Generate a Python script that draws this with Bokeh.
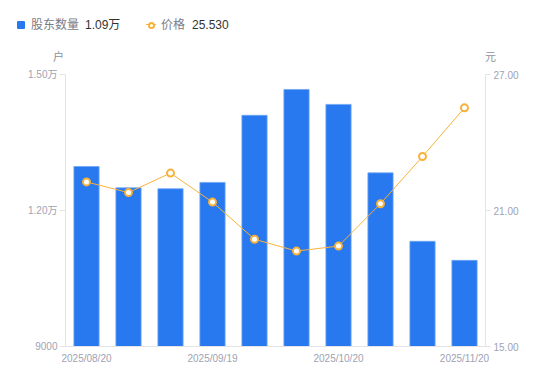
from bokeh.plotting import figure
from bokeh.layouts import column
from bokeh.models import (Range1d, LinearAxis, FixedTicker, ColumnDataSource, NumeralTickFormatter, Div)
from bokeh.embed import file_html
from bokeh.resources import INLINE

# ---- data ----
dates = ["2025/08/20", "2025/08/29", "2025/09/10", "2025/09/19", "2025/09/30",
         "2025/10/10", "2025/10/20", "2025/10/31", "2025/11/10", "2025/11/20"]
shareholders = [12970, 12500, 12480, 12620, 14100, 14670, 14340, 12830, 11320, 10900]
prices = [22.26, 21.79, 22.65, 21.37, 19.73, 19.21, 19.43, 21.30, 23.38, 25.53]
x_tick_idx = [0, 3, 6, 9]
left_ticks = [9000, 12000, 15000]
left_tick_labels = ["9000", "1.20万", "1.50万"]
right_ticks = [15.0, 21.0, 27.0]
series_names = ["股东数量", "价格"]
units = ["户", "元"]

FONT = "Liberation Sans, Noto Sans CJK SC"
TICK_COLOR = "#a0a2b2"
AXIS_COLOR = "#e3e3e8"
BAR_COLOR = "#2878f0"
LINE_COLOR = "#f8b23a"

W = 550
TOP_H = 66

# ---------------- header (legend + units) as HTML ----------------
def span(left, top, text, color, size=12):
    return (f'<span style="position:absolute;left:{left}px;top:{top}px;line-height:12px;'
            f'font-size:{size}px;color:{color};white-space:nowrap;">{text}</span>')

count_txt = f"{shareholders[-1] / 10000:.2f}万"
price_txt = f"{prices[-1]:.3f}"
header_html = (
    f'<div style="position:relative;width:{W}px;height:{TOP_H}px;font-family:{FONT};">'
    f'<span style="position:absolute;left:17px;top:21px;width:8px;height:8px;'
    f'background:{BAR_COLOR};border-radius:1px;"></span>'
    + span(31, 19, series_names[0], "#7a7c88")
    + span(85, 19, count_txt, "#333333")
    + f'<span style="position:absolute;left:146px;top:24px;width:10px;height:1px;background:{LINE_COLOR};"></span>'
    + f'<span style="position:absolute;left:148px;top:21.5px;width:7px;height:7px;box-sizing:border-box;'
      f'border:2px solid {LINE_COLOR};border-radius:50%;background:white;"></span>'
    + span(161, 19, series_names[1], "#7a7c88")
    + span(192, 19, price_txt, "#333333")
    + span(53, 51, units[0], "#8e909c", 11)
    + span(485, 51, units[1], "#8e909c", 11)
    + '</div>'
)
header = Div(text=header_html, width=W, height=TOP_H, margin=(0, 0, 0, 0))

# ---------------- main chart ----------------
idx = list(range(len(dates)))
src = ColumnDataSource(dict(x=idx, date=dates, count=shareholders, price=prices))

p = figure(frame_width=420, frame_height=272, output_backend="svg", toolbar_location=None,
           x_range=Range1d(-0.5, len(dates) - 0.5), y_range=Range1d(left_ticks[0], left_ticks[-1]),
           min_border_left=65, min_border_right=65, min_border_top=8, min_border_bottom=30)
p.extra_y_ranges = {"price": Range1d(right_ticks[0], right_ticks[-1])}
p.outline_line_color = None
p.xgrid.visible = False
p.ygrid.visible = False

bars = p.vbar(x="x", top="count", bottom=left_ticks[0], width=0.6, source=src,
              fill_color=BAR_COLOR, line_color="#6fa6f6", line_width=0.8)
line = p.line(x="x", y="price", source=src, y_range_name="price",
              line_color=LINE_COLOR, line_width=1)
pts = p.scatter(x="x", y="price", source=src, y_range_name="price", size=7,
                marker="circle", fill_color="white", line_color=LINE_COLOR, line_width=2)

# x axis
xa = p.xaxis[0]
xa.ticker = FixedTicker(ticks=x_tick_idx)
xa.major_label_overrides = {i: dates[i] for i in x_tick_idx}
xa.major_tick_out = 0
xa.major_tick_in = 0
xa.minor_tick_out = 0
xa.minor_tick_in = 0
xa.axis_line_color = AXIS_COLOR
xa.major_label_text_color = TICK_COLOR
xa.major_label_text_font = FONT
xa.major_label_text_font_size = "10px"
xa.major_label_standoff = 6

# left axis
ya = p.yaxis[0]
ya.ticker = FixedTicker(ticks=left_ticks)
ya.major_label_overrides = dict(zip(left_ticks, left_tick_labels))
ya.major_tick_out = 6
ya.major_tick_in = 0
ya.minor_tick_out = 0
ya.minor_tick_in = 0
ya.major_tick_line_color = AXIS_COLOR
ya.axis_line_color = AXIS_COLOR
ya.major_label_text_color = TICK_COLOR
ya.major_label_text_font = FONT
ya.major_label_text_font_size = "10px"
ya.major_label_standoff = 2

# right axis
ra = LinearAxis(y_range_name="price", ticker=FixedTicker(ticks=right_ticks),
                formatter=NumeralTickFormatter(format="0.00"))
ra.major_tick_out = 5
ra.major_tick_in = 0
ra.minor_tick_out = 0
ra.minor_tick_in = 0
ra.major_tick_line_color = AXIS_COLOR
ra.axis_line_color = AXIS_COLOR
ra.major_label_text_color = TICK_COLOR
ra.major_label_text_font = FONT
ra.major_label_text_font_size = "10px"
ra.major_label_standoff = 3
p.add_layout(ra, "right")

layout = column(header, p, spacing=0)
open("out.html", "w").write(file_html(layout, INLINE))
